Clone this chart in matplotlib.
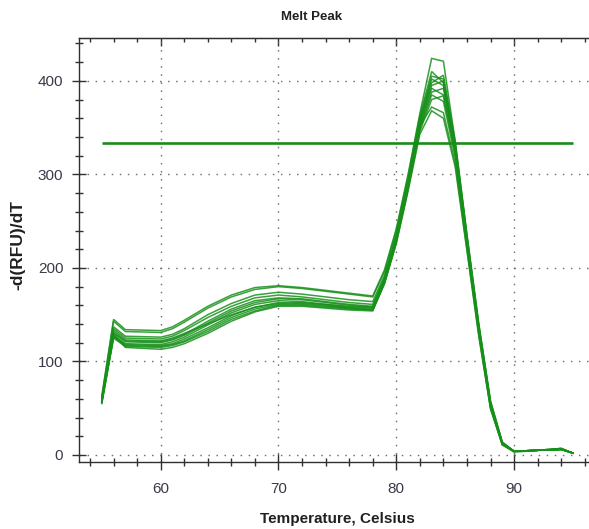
import matplotlib
matplotlib.use("Agg")
import matplotlib.pyplot as plt
from matplotlib.ticker import MultipleLocator

temps = [55, 56, 57, 60, 61, 62, 64, 66, 68, 70, 72, 74, 76, 78, 79, 80, 81, 82,
         83, 84, 85, 86, 87, 88, 89, 90, 92, 94, 95]

s1 = [63, 145, 134, 133, 137, 144, 159, 171, 179, 181, 179, 176, 173, 170, 198, 242, 300, 365, 424, 421, 335, 235, 140, 57, 13, 4, 5, 7, 2]
s2 = [62, 143, 132, 131, 135, 142, 157, 169, 177, 180, 178, 175, 172, 169, 196, 240, 298, 362, 410, 398, 328, 230, 136, 54, 12, 4, 5, 6, 2]
s3 = [60, 137, 127, 126, 129, 135, 150, 162, 171, 174, 172, 169, 166, 164, 192, 236, 294, 360, 405, 402, 332, 233, 138, 56, 13, 4, 5, 7, 2]
s4 = [59, 135, 125, 124, 127, 133, 147, 159, 168, 171, 169, 166, 163, 161, 190, 234, 292, 358, 398, 406, 336, 236, 141, 58, 14, 4, 5, 7, 2]
s5 = [58, 131, 122, 121, 124, 129, 143, 156, 165, 168, 167, 164, 161, 159, 188, 232, 290, 355, 402, 395, 326, 228, 134, 53, 12, 4, 5, 6, 2]
s6 = [58, 130, 121, 120, 123, 128, 141, 154, 163, 167, 166, 163, 160, 158, 187, 231, 289, 354, 395, 400, 330, 231, 137, 55, 13, 4, 5, 6, 2]
s7 = [57, 128, 119, 118, 121, 126, 139, 152, 161, 165, 164, 161, 158, 157, 186, 230, 287, 352, 392, 385, 322, 226, 133, 52, 11, 4, 5, 6, 2]
s8 = [56, 127, 118, 117, 119, 124, 136, 149, 158, 163, 162, 160, 157, 156, 185, 229, 286, 350, 388, 392, 328, 230, 136, 54, 12, 4, 5, 6, 2]
s9 = [56, 126, 117, 116, 118, 122, 134, 147, 156, 161, 161, 159, 157, 155, 184, 228, 285, 348, 385, 378, 318, 223, 131, 51, 11, 4, 5, 6, 2]
s10 = [55, 125, 116, 115, 117, 121, 132, 145, 154, 160, 160, 158, 156, 155, 184, 227, 284, 346, 380, 384, 324, 228, 135, 53, 12, 4, 5, 6, 2]
s11 = [57, 133, 123, 122, 125, 130, 140, 150, 158, 162, 163, 161, 159, 158, 187, 231, 288, 352, 372, 366, 312, 220, 129, 50, 11, 4, 5, 6, 2]
s12 = [59, 129, 115, 113, 115, 119, 130, 143, 153, 159, 159, 157, 155, 154, 183, 226, 282, 343, 368, 360, 308, 218, 127, 49, 11, 3, 5, 6, 2]
series = [s1, s2, s3, s4, s5, s6, s7, s8, s9, s10, s11, s12]

threshold = 334
threshold_x = [55, 95]

x_major = [60, 70, 80, 90]
y_major = [0, 100, 200, 300, 400]

title = "Melt Peak"
xlabel = "Temperature, Celsius"
ylabel = "-d(RFU)/dT"

W, H = 589, 529
fig = plt.figure(figsize=(W / 100, H / 100), dpi=100)
L, R, T, B = 78.6, 589, 38.3, 462
ax = fig.add_axes([L / W, 1 - B / H, (R - L) / W, (B - T) / H])

green = "#17901a"
for s in series:
    ax.plot(temps, s, color=green, lw=1.1, alpha=0.85, solid_joinstyle="miter")

ax.plot(threshold_x, [threshold, threshold], color="#1a8c1a", lw=1.9, solid_capstyle="butt")

ax.set_xlim(53.03, 96.36)
ax.set_ylim(-7.5, 445.5)

ax.set_xticks(x_major)
ax.xaxis.set_minor_locator(MultipleLocator(2))
ax.set_yticks(y_major)
ax.yaxis.set_minor_locator(MultipleLocator(20))

ax.grid(True, which="major", color="#707070", lw=1.0, linestyle=(0, (1.1, 4.7)))

spine_c = "#303030"
for side in ["left", "bottom", "top"]:
    ax.spines[side].set_color(spine_c)
    ax.spines[side].set_linewidth(1.0)
ax.spines["right"].set_visible(False)

lab_c = "#3a3a48"
ax.tick_params(axis="x", which="major", direction="inout", length=12.2, width=1.0,
               color=spine_c, pad=8.0, labelsize=11, labelcolor=lab_c, top=False)
ax.tick_params(axis="x", which="minor", direction="inout", length=6, width=1.0,
               color=spine_c, top=False)
ax.tick_params(axis="y", which="major", direction="inout", length=9.5, width=1.0,
               color=spine_c, pad=6.3, labelsize=11, labelcolor=lab_c)
ax.tick_params(axis="y", which="minor", direction="inout", length=5.5, width=1.0,
               color=spine_c)
for lab in ax.get_xticklabels() + ax.get_yticklabels():
    lab.set_family(["Liberation Sans", "DejaVu Sans"])

top = ax.secondary_xaxis("top")
top.set_xticks(x_major)
top.xaxis.set_minor_locator(MultipleLocator(2))
top.tick_params(which="major", direction="in", length=6, width=1.0, color=spine_c,
                labeltop=False)
top.tick_params(which="minor", direction="in", length=3, width=1.0, color=spine_c)
top.spines["top"].set_color(spine_c)

fig.text(312 / W, 1 - 17 / H, title, ha="center", va="center", fontsize=9.5,
         fontweight="bold", family=["Liberation Sans Narrow", "Liberation Sans", "DejaVu Sans"],
         color="#202020")
fig.text(337 / W, 1 - 519 / H, xlabel, ha="center", va="center", fontsize=11,
         fontweight="bold", family=["Liberation Sans Narrow", "Liberation Sans", "DejaVu Sans"],
         color="#202020")
fig.text(18 / W, 1 - 245 / H, ylabel, ha="center", va="center", fontsize=12.5,
         fontweight="bold", rotation=90,
         family=["Liberation Sans Narrow", "Liberation Sans", "DejaVu Sans"],
         color="#202020")

fig.savefig("out.png", dpi=100)
